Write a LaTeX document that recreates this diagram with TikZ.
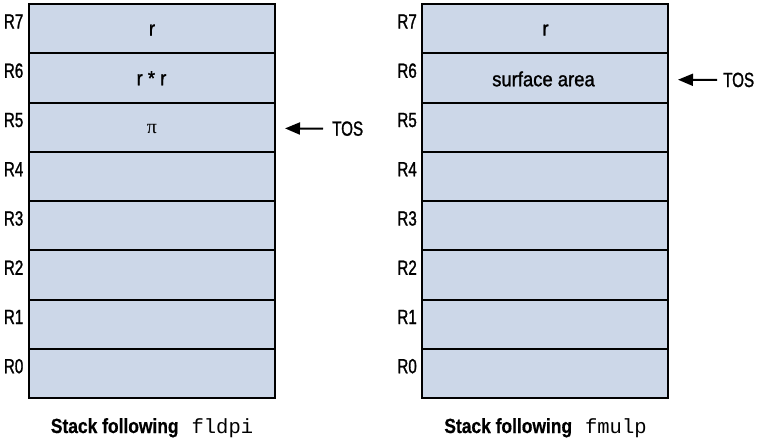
\documentclass[tikz,border=0pt]{standalone}
\usepackage{fontspec}
\setmainfont{Liberation Sans}
\newfontfamily\labfont[FakeStretch=0.74,FakeBold=1.3]{Liberation Sans}
\newfontfamily\txtfont[FakeStretch=0.9,FakeBold=1.3]{Liberation Sans}
\newfontfamily\capfont[FakeStretch=0.85,FakeBold=0.6]{Liberation Sans}
\newfontfamily\codefont{Liberation Mono}
\newfontfamily\pifont{Liberation Serif}
\usetikzlibrary{arrows.meta}
\definecolor{cellfill}{RGB}{204,215,232}
\tikzset{
  cell/.style={draw=black, line width=2pt, fill=cellfill, minimum width=246pt, minimum height=49.25pt, inner sep=0pt, outer sep=0pt, anchor=north west},
  reglab/.style={anchor=base east, inner sep=0pt, font=\labfont\fontsize{20.5}{24}\selectfont},
  content/.style={anchor=base, inner sep=0pt, font=\txtfont\fontsize{20.5}{24}\selectfont},
  toslab/.style={anchor=base west, inner sep=0pt, font=\labfont\fontsize{20.5}{24}\selectfont},
  caption/.style={anchor=base, inner sep=0pt, font=\capfont\bfseries\fontsize{20.5}{24}\selectfont},
  tosarrow/.style={line width=2pt, -{Triangle[length=15pt,width=12pt]}}
}
\begin{document}
\begin{tikzpicture}[x=1pt,y={(0pt,-1pt)}]
\useasboundingbox (0,0) rectangle (757,437);
% stacks
\foreach \i in {0,...,7}{
  \pgfmathsetmacro{\top}{4+(7-\i)*49.25}
  \node[cell] (L\i) at (29,\top) {};
  \node[cell] (Q\i) at (422,\top) {};
  \node[reglab] (LR\i) at (23.5,\top+24.5) {R\i};
  \node[reglab] (QR\i) at (417,\top+24.5) {R\i};
}
% contents
\node[content] (L7t) at (152,4+31.5) {r};
\node[content] (L6t) at (151.5,53.25+32) {r * r};
\node[anchor=base, inner sep=0pt, font=\pifont\fontsize{20}{24}\selectfont] (L5t) at (152,102.5+31) {π};
\node[content] (Q7t) at (545.5,4+31.5) {r};
\node[content] (Q6t) at (543.5,53.25+33) {surface area};
% TOS markers
\node[toslab] (tosL) at (332,135.7) {TOS};
\coordinate (tipL) at (285,128.4);
\draw[tosarrow] ([xshift=-9pt]tosL.west) -- (tipL);
\node[toslab] (tosQ) at (723,87) {TOS};
\coordinate (tipQ) at (678,79.7);
\draw[tosarrow] ([xshift=-6pt]tosQ.west) -- (tipQ);
% captions
\node[caption] (capL) at (152,433) {Stack following\hspace{13pt}{\codefont\mdseries fldpi}};
\node[caption] (capQ) at (545.5,433) {Stack following\hspace{13pt}{\codefont\mdseries fmulp}};
\end{tikzpicture}
\end{document}
